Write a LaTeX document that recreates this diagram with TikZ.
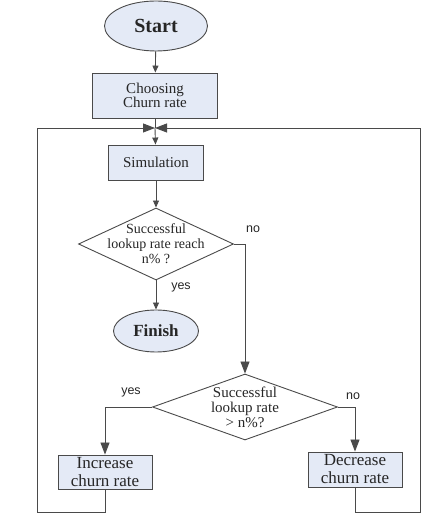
\documentclass[tikz,border=0pt]{standalone}
\usepackage{fontspec}
\setmainfont{Liberation Serif}
\newfontfamily\answerfont{Liberation Sans}
\usetikzlibrary{shapes.geometric, arrows.meta}
\definecolor{boxfill}{HTML}{E4EAF6}
\definecolor{linegray}{HTML}{4A4A4A}
\begin{document}
\begin{tikzpicture}[x=1pt, y=1pt,
        every node/.style={text=black!85},
        term/.style={draw=linegray, fill=boxfill, shape=ellipse, line width=0.9pt, inner sep=0pt},
        proc/.style={draw=linegray, fill=boxfill, shape=rectangle, line width=0.9pt, inner sep=0pt, align=center},
        test/.style={draw=linegray, shape=diamond, line width=0.9pt, inner sep=0pt},
        answer/.style={font=\answerfont\fontsize{12.5}{14}\selectfont},
        flow/.style={draw=linegray, line width=0.9pt},
        arr/.style={-{Triangle[length=7pt, width=6pt]}},
        bigarr/.style={-{Triangle[length=12pt, width=9pt]}}]
            \useasboundingbox (0,0) rectangle (421,514);

            \node[term, minimum width=103, minimum height=50, font=\bfseries\fontsize{20}{22}\selectfont] (ST) at (156,488) {Start};
            \node[proc, minimum width=125, minimum height=45, font=\fontsize{15}{14}\selectfont] (CH) at (155,418.5) {Choosing\\Churn rate};
            \coordinate (J) at (155,386);
            \node[proc, minimum width=95, minimum height=35, font=\fontsize{15}{16}\selectfont] (SI) at (156,351.5) {Simulation};
            \node[test, minimum width=155, minimum height=72,
                label={[align=center, font=\fontsize{14}{15}\selectfont]center:Successful\\lookup rate reach\\n\% ?}] (T1) at (156,270) {};
            \node[term, minimum width=85, minimum height=42, font=\bfseries\fontsize{17}{19}\selectfont] (FI) at (156,183) {Finish};
            \node[test, minimum width=185, minimum height=66,
                label={[align=center, font=\fontsize{15}{15}\selectfont]center:Successful\\lookup rate\\> n\%?}] (T2) at (245,107) {};
            \node[proc, minimum width=94, minimum height=34, font=\fontsize{17}{18}\selectfont] (IN) at (105,42) {Increase\\churn rate};
            \node[proc, minimum width=94, minimum height=35, font=\fontsize{17}{18}\selectfont] (DE) at (355,44.5) {Decrease\\churn rate};

            \coordinate (LB) at (37,2);
            \coordinate (RB) at (420,2);

            \draw[flow, arr] (ST) -- (CH);
            \draw[flow] (CH) -- (J);
            \draw[flow, arr] (J) -- (SI);
            \draw[flow, arr] (SI) -- (T1);
            \draw[flow, arr] (T1) -- (FI);
            \draw[flow, bigarr] (T1.east) -| (T2.north);
            \draw[flow, bigarr] (T2.west) -| (IN.north);
            \draw[flow, bigarr] (T2.east) -| (DE.north);
            \draw[flow, bigarr] (IN.south) |- (LB) |- (J);
            \draw[flow, bigarr] (DE.south) |- (RB) |- (J);

            \node[answer] (N1) at (253,285) {no};
            \node[answer] (Y1) at (181,227) {yes};
            \node[answer] (Y2) at (131,122) {yes};
            \node[answer] (N2) at (353,118) {no};
        \end{tikzpicture}
\end{document}
